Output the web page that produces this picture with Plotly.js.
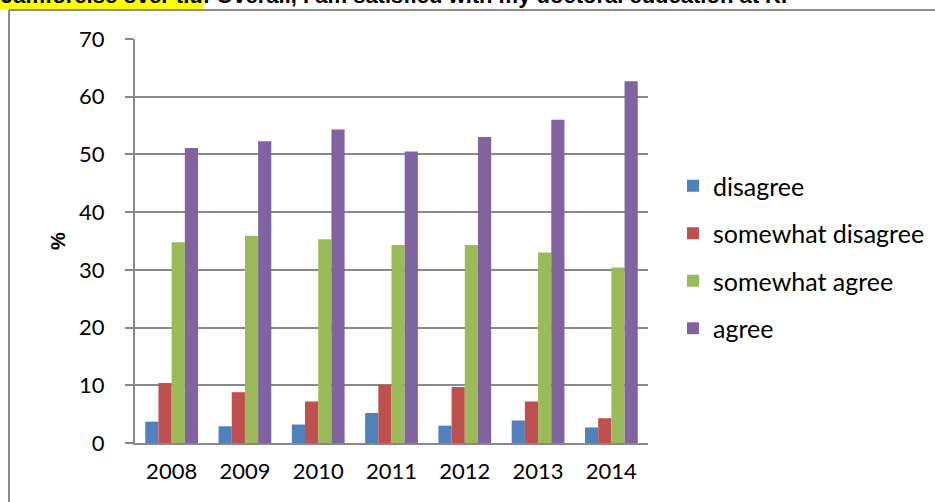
<!DOCTYPE html>
<html>
<head>
<meta charset="utf-8">
<script src="https://cdn.plot.ly/plotly-3.0.1.min.js"></script>
<style>
html,body{margin:0;padding:0;background:#fff;}
#chart{width:935px;height:502px;}
</style>
</head>
<body>
<div id="chart"></div>
<script>
const years = ['2008','2009','2010','2011','2012','2013','2014'];
const seriesNames = ['disagree','somewhat disagree','somewhat agree','agree'];
const disagree = [3.7, 2.9, 3.2, 5.2, 3.0, 3.9, 2.7];
const somewhatDisagree = [10.4, 8.8, 7.2, 10.1, 9.7, 7.2, 4.3];
const somewhatAgree = [34.8, 35.9, 35.3, 34.3, 34.3, 33.0, 30.4];
const agree = [51.1, 52.3, 54.3, 50.5, 53.0, 56.0, 62.7];
const colors = ['#4F81BD','#C0504D','#9BBB59','#8064A2'];
const yTicks = [0,10,20,30,40,50,60,70];
const titleHighlight = 'Jämförelse över tid';
const titleRest = ': Overall, I am satisfied with my doctoral education at KI';

const values = [disagree, somewhatDisagree, somewhatAgree, agree];
const font = 'Lato, "Open Sans", sans-serif';
const boldFont = '"Liberation Sans", Arial, sans-serif';

const data = values.map((v,i)=>({
  type:'bar', x:years, y:v, name:seriesNames[i],
  marker:{color:colors[i]}, legendgroup:'g'+i,
  hoverinfo:'y+name'
}));

const L=135, R=648, T=39, B=443, W=935, H=502;
const px = p => (p-L)/(R-L);
const py = p => (B-p)/(B-T);

const layout = {
  width:W, height:H,
  margin:{l:L, r:W-R, t:T, b:H-B, pad:0, autoexpand:false},
  paper_bgcolor:'#fff', plot_bgcolor:'#fff',
  barmode:'group', bargap:0.28, bargroupgap:0,
  font:{family:font, size:22, color:'#000'},
  xaxis:{
    type:'category', showline:true, linecolor:'#888', linewidth:2,
    ticks:'', tickfont:{family:font, size:22, color:'#000'},
    ticklabelstandoff:8, automargin:false,
    showgrid:false, zeroline:false, fixedrange:true
  },
  yaxis:{
    range:[0,70], tickvals:yTicks, ticktext:yTicks.map(String),
    showline:true, linecolor:'#888', linewidth:2,
    ticks:'outside', ticklen:8, tickcolor:'#888', tickwidth:2,
    ticklabelstandoff:16, automargin:false,
    showgrid:true, gridcolor:'#8a8a8a', gridwidth:2,
    zeroline:false, tickfont:{family:font, size:22, color:'#000'},
    title:{text:'<b>%</b>', font:{family:boldFont, size:20, color:'#000'}, standoff:8},
    fixedrange:true
  },
  legend:{
    x:px(673), y:py(163), xanchor:'left', yanchor:'top',
    font:{family:font, size:25, color:'#000'},
    traceorder:'grouped', tracegroupgap:12, bgcolor:'rgba(0,0,0,0)',
    itemwidth:30
  },
  shapes:[
    {type:'rect', xref:'paper', yref:'paper', x0:px(0), x1:px(203), y0:py(-5), y1:py(9), fillcolor:'#ffff00', line:{width:0}, layer:'below'},
    {type:'line', xref:'paper', yref:'paper', x0:px(9), x1:px(9), y0:py(10), y1:py(520), line:{color:'#8c8c8c', width:2}},
    {type:'line', xref:'paper', yref:'paper', x0:px(9), x1:px(960), y0:py(10), y1:py(10), line:{color:'#8c8c8c', width:2}}
  ],
  annotations:[
    {xref:'paper', yref:'paper', x:px(0), y:py(9), xanchor:'left', yanchor:'bottom',
     text:'<b>'+titleHighlight+titleRest+'</b>', showarrow:false, borderpad:0,
     font:{family:boldFont, size:22, color:'#000'}}
  ],
  showlegend:true
};

Plotly.newPlot('chart', data, layout, {displayModeBar:false});
</script>
</body>
</html>
